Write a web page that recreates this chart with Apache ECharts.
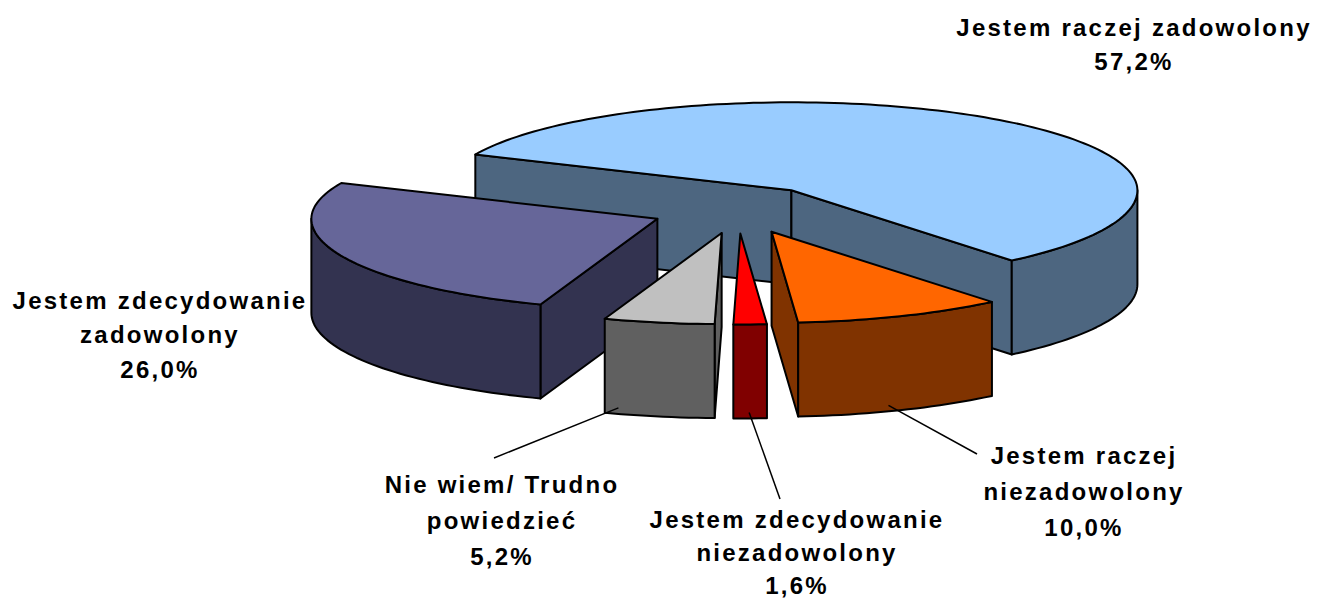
<!DOCTYPE html>
<html><head><meta charset="utf-8">
<style>html,body{margin:0;padding:0;background:#fff}#c{width:1318px;height:603px}#c text{letter-spacing:2.25px}</style>
<script src="https://cdn.jsdelivr.net/npm/echarts@6/dist/echarts.min.js"></script>
</head><body><div id="c"></div>
<script>
// data, in pie order (clockwise)
const categories = ["Jestem raczej zadowolony","Jestem raczej niezadowolony","Jestem zdecydowanie niezadowolony","Nie wiem/ Trudno powiedzieć","Jestem zdecydowanie zadowolony"];
const values = [57.2,10.0,1.6,5.2,26.0];
const labelLines = [["Jestem raczej zadowolony"],["Jestem raczej","niezadowolony"],["Jestem zdecydowanie","niezadowolony"],["Nie wiem/ Trudno","powiedzieć"],["Jestem zdecydowanie","zadowolony"]];
const topColors = ["#99CCFF","#FF6600","#FF0000","#C0C0C0","#666699"];
const wallColors = ["#4D6680","#803300","#800000","#606060","#333350"];
const paintOrder = [0,4,3,2,1];
// layout
const P = {cx:738.5,cy:209.5,rx:346,ryBack:88,ryFront:91,depth:94,ex:88,ey:24,startDeg:204};
const labelPos = [[1134,10],[1084,437],[797,503],[502,466],[160,283]];
const labelLineHeight = [34,36,33,36,34.5];
const leaderEnd = [null,[977,454],[780,499],[494,458],null];
const leaderDeg = [null,70,89,108,null];
const total = values.reduce((a,b)=>a+b,0);
const rad = d=>d*Math.PI/180;
let acc = P.startDeg;
const slices = values.map(v=>{const a=acc,b=acc+v/total*360;acc=b;return {a,b,m:(a+b)/2};});
// projected rim point: the front of the rim is slightly foreshortened, as in a perspective view
function pt(c,d,dy){
  const s=Math.sin(rad(d));
  let t=d,ry=P.ryBack;
  if(s>0){
    const amp=Math.cos(rad(d))>0?1.2:0.3;
    t=d+s*(amp*Math.sin(rad(2*(90-d)))-0.5);ry=P.ryFront;
  }
  return [c[0]+P.rx*Math.cos(rad(t)),c[1]+ry*Math.sin(rad(t))+(dy||0)];
}
function arcPts(c,a,b,dy){const r=[];const n=Math.max(2,Math.ceil((b-a)/1.5));for(let i=0;i<=n;i++)r.push(pt(c,a+(b-a)*i/n,dy));return r;}
const stroke={stroke:'#000',lineWidth:2,lineJoin:'round'};
function poly(points,fill){return {type:'polygon',shape:{points},style:Object.assign({fill},stroke)};}
function renderItem(params,api){
  const i=api.value(0), s=slices[i];
  const c=[P.cx+P.ex*Math.cos(rad(s.m)),P.cy+P.ey*Math.sin(rad(s.m))];
  const kids=[];
  const wall=wallColors[i], d=P.depth;
  const face=(deg)=>{const e=pt(c,deg);kids.push(poly([c,e,[e[0],e[1]+d],[c[0],c[1]+d]],wall));};
  if(Math.sin(rad(s.a-90))>0) face(s.a);
  if(Math.sin(rad(s.b+90))>0) face(s.b);
  for(const off of [0,360]){
    const a=Math.max(s.a,off),b=Math.min(s.b,off+180);
    if(b>a){kids.push(poly(arcPts(c,a,b).concat(arcPts(c,a,b,d).reverse()),wall));}
  }
  kids.push(poly([c].concat(arcPts(c,s.a,s.b)),topColors[i]));
  if(leaderEnd[i]){
    const o=pt(c,leaderDeg[i],d-6);
    kids.push({type:'polyline',shape:{points:[o,leaderEnd[i]]},style:{stroke:'#000',lineWidth:1.5,fill:null}});
  }
  const lines=labelLines[i].concat([values[i].toFixed(1).replace('.',',')+'%']);
  kids.push({type:'text',x:labelPos[i][0],y:labelPos[i][1],z2:10,style:{text:lines.join('\n'),align:'center',verticalAlign:'top',font:'bold 24px "Liberation Sans", Arial, sans-serif',lineHeight:labelLineHeight[i],fill:'#000'}});
  return {type:'group',children:kids};
}
const chart=echarts.init(document.getElementById('c'),null,{renderer:'svg'});
chart.setOption({animation:false,backgroundColor:'#fff',
  series:[{type:'custom',coordinateSystem:'none',renderItem,data:paintOrder.map(i=>[i,values[i],categories[i]]),encode:{value:1,itemName:2}}]});
</script></body></html>
